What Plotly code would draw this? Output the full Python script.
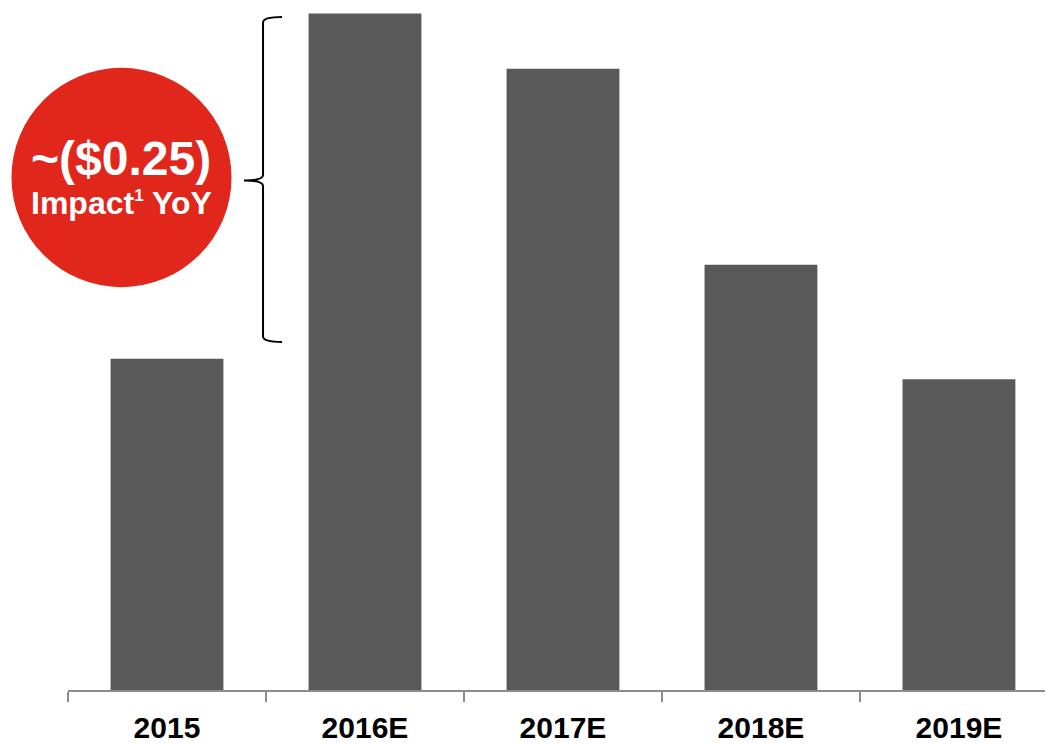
import plotly.graph_objects as go

categories = ["2015", "2016E", "2017E", "2018E", "2019E"]
values = [0.24, 0.49, 0.45, 0.308, 0.225]
impact_value = "~($0.25)"
impact_label = "Impact<sup><span style='font-size:17px'>1</span></sup> YoY"

BAR = "#595959"
RED = "#E1261C"
AXIS = "#8C8C8C"
FONT = "Liberation Sans, Arial, sans-serif"

fig = go.Figure(go.Bar(
    x=categories, y=values, marker=dict(color=BAR, line=dict(width=0)),
    hoverinfo="skip",
))

# circle (paper coords)
fig.add_shape(type="circle", xref="paper", yref="paper",
              x0=-0.0574, x1=0.166, y0=0.5906, y1=0.9123,
              fillcolor=RED, line=dict(width=0), layer="above")

fig.add_annotation(xref="paper", yref="paper", x=0.0543, y=0.7795,
                   text="<b>" + impact_value + "</b>", showarrow=False,
                   font=dict(family=FONT, size=48, color="white"),
                   xanchor="center", yanchor="middle")
fig.add_annotation(xref="paper", yref="paper", x=0.0543, y=0.7135,
                   text="<b>" + impact_label + "</b>", showarrow=False,
                   font=dict(family=FONT, size=32, color="white"),
                   xanchor="center", yanchor="middle")

# curly bracket (paper coords)
xa, xm, xp = 0.2173, 0.198, 0.1787
yt, ymid, yb = 0.9868, 0.7471, 0.5102
d = 0.008
path = (f"M {xa},{yt} Q {xm},{yt} {xm},{yt-d} "
        f"L {xm},{ymid+d} Q {xm},{ymid} {xp},{ymid} "
        f"Q {xm},{ymid} {xm},{ymid-d} "
        f"L {xm},{yb+d} Q {xm},{yb} {xa},{yb}")
fig.add_shape(type="path", xref="paper", yref="paper", path=path,
              line=dict(color="black", width=2), layer="above")

fig.update_layout(
    width=1045, height=736,
    margin=dict(l=60, r=0, t=0, b=52),
    paper_bgcolor="white", plot_bgcolor="white",
    bargap=0.43, showlegend=False,
    xaxis=dict(range=[-0.5, 4.475], showline=True, linecolor=AXIS, linewidth=1.5,
               ticks="outside", tickson="boundaries", ticklen=10, tickcolor=AXIS,
               tickwidth=1.5, showgrid=False, ticklabelstandoff=10,
               tickfont=dict(family=FONT, size=30, color="black", weight="bold")),
    yaxis=dict(range=[0, 0.494], visible=False, showgrid=False, zeroline=False),
)

fig.write_html("out.html")
